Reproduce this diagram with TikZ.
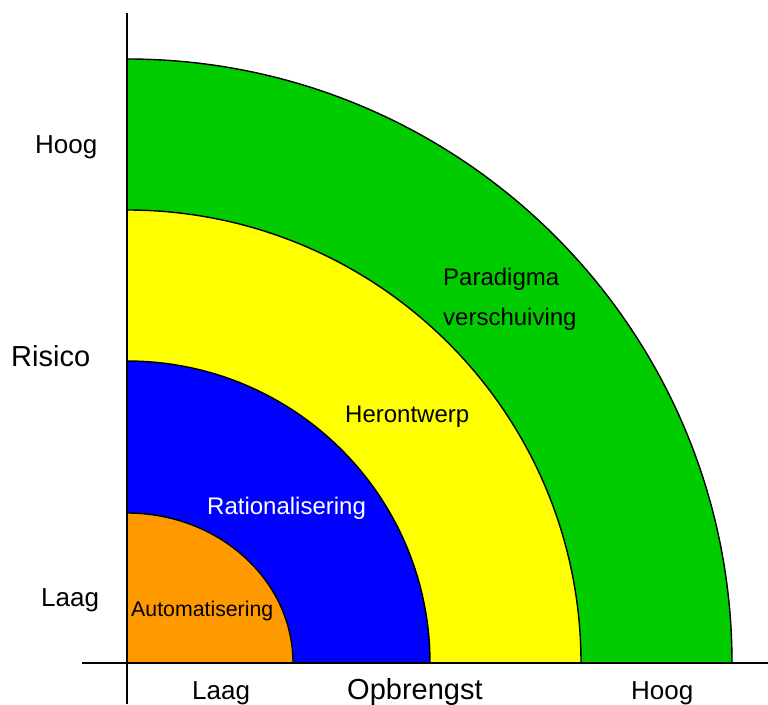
\documentclass[tikz,border=0pt]{standalone}
\usepackage{fontspec}
\setmainfont{Liberation Sans}
\definecolor{cgreen}{HTML}{00CC00}
\definecolor{cyellow}{HTML}{FFFF00}
\definecolor{cblue}{HTML}{0000FF}
\definecolor{corange}{HTML}{FF9900}
\tikzset{
  ring/.style={draw=black, line width=1.4pt},
  axisline/.style={draw=black, line width=1.4pt},
  lbl/.style={anchor=base west, inner sep=0pt, font=\fontsize{26}{30}\selectfont},
  ttl/.style={anchor=base west, inner sep=0pt, font=\fontsize{29}{33}\selectfont},
  rlbl/.style={anchor=base west, inner sep=0pt, font=\fontsize{24}{28}\selectfont},
}
\begin{document}
\begin{tikzpicture}[x=1pt,y=1pt]
\useasboundingbox (0,0) rectangle (768,704);
\coordinate (O) at (127,41);
% rings, largest first
\filldraw[ring, fill=cgreen] (O) -- ++(605,0) arc[start angle=0, end angle=90, x radius=605, y radius=604] -- cycle;
\filldraw[ring, fill=cyellow] (O) -- ++(454,0) arc[start angle=0, end angle=90, x radius=454, y radius=453] -- cycle;
\filldraw[ring, fill=cblue] (O) -- ++(303,0) arc[start angle=0, end angle=90, x radius=303, y radius=302] -- cycle;
\filldraw[ring, fill=corange] (O) -- ++(166,0) arc[start angle=0, end angle=90, x radius=166, y radius=150] -- cycle;
% axes
\coordinate (ytop) at (127,691);
\coordinate (ybot) at (127,0);
\coordinate (xl) at (82,41);
\coordinate (xr) at (768,41);
\draw[axisline] (ybot) -- (ytop);
\draw[axisline] (xl) -- (xr);
% ring labels
\node[rlbl] (par) at (443,418) {Paradigma};
\node[rlbl] (ver) at (443,378) {verschuiving};
\node[rlbl] (her) at (345,281) {Herontwerp};
\node[rlbl, text=white] (rat) at (207,189) {Rationalisering};
\node[anchor=base west, inner sep=0pt, font=\fontsize{21.3}{25}\selectfont] (aut) at (131,87) {Automatisering};
% axis labels
\node[lbl] (hoogl) at (35,550) {Hoog};
\node[ttl] (ris) at (11,337) {Risico};
\node[lbl] (laagl) at (41,97) {Laag};
\node[lbl] (laagb) at (192,5) {Laag};
\node[ttl] (opb) at (347,5) {Opbrengst};
\node[lbl] (hoogb) at (631,5) {Hoog};
\end{tikzpicture}
\end{document}
